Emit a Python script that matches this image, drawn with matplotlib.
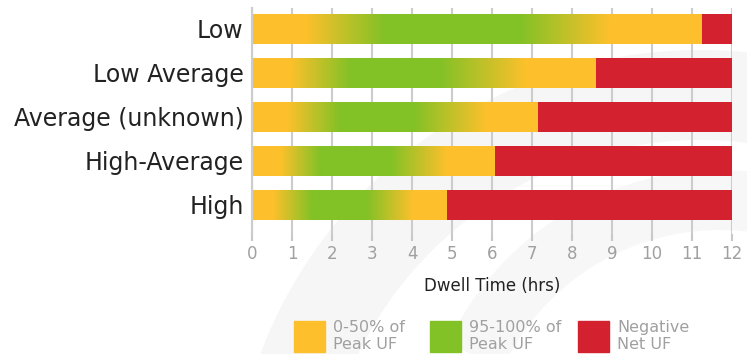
import numpy as np
import matplotlib
matplotlib.use('agg')
import matplotlib.pyplot as plt
from matplotlib.patches import Rectangle, Wedge

plt.rcParams['font.family'] = ['DejaVu Sans']

categories = ['Low', 'Low Average', 'Average (unknown)', 'High-Average', 'High']
# positive net UF ends here, negative from there to 12 h
positive_end = [11.24, 8.6, 7.14, 6.08, 4.87]
# gradient stops along each bar: yellow until, green from, green until, yellow from
yellow_until = [1.33, 0.95, 0.87, 0.70, 0.53]
green_from = [3.3, 2.45, 2.2, 1.7, 1.5]
green_until = [6.7, 4.7, 4.03, 3.45, 2.87]
yellow_from = [8.95, 6.87, 5.87, 4.87, 4.03]
max_dwell = 12
xticks = list(range(0, 13))
legend_labels = ['0-50% of\nPeak UF', '95-100% of\nPeak UF', 'Negative\nNet UF']

yellow = np.array([253, 192, 44]) / 255
green = np.array([130, 194, 38]) / 255
red = np.array([212, 33, 47]) / 255

fig = plt.figure(figsize=(7.47, 3.54), dpi=100)

# faint swoosh in the background (pixel coords, y from top)
bg = fig.add_axes([0, 0, 1, 1], zorder=-1)
bg.set_xlim(0, 747)
bg.set_ylim(354, 0)
bg.axis('off')
bg.add_patch(Wedge((700, 520), 470, 195, 300, width=90, color='#f6f6f6', lw=0))
bg.add_patch(Wedge((720, 470), 300, 205, 330, width=60, color='#f7f7f7', lw=0))

ax = fig.add_axes([252 / 747, 1 - 234 / 354, 480 / 747, 226 / 354])
ax.patch.set_alpha(0)

h = 0.68
for i, cat in enumerate(categories):
    end = positive_end[i]
    xs = np.linspace(0, end, 400)
    stops = [0, yellow_until[i], green_from[i], green_until[i], yellow_from[i], end]
    w = np.interp(xs, stops, [0, 0, 1, 1, 0, 0])
    row = (1 - w)[:, None] * yellow + w[:, None] * green
    ax.imshow(row[None, :, :], extent=(0, end, i + h / 2, i - h / 2),
              aspect='auto', interpolation='bilinear', zorder=2)
    ax.barh(i, max_dwell - end, left=end, height=h, color=red, zorder=2)

ax.set_xlim(0, max_dwell)
ax.set_ylim(4 + 29 / 44, -20.5 / 44)
ax.set_xticks(xticks)
ax.set_yticks(range(len(categories)))
ax.set_yticklabels(categories, fontsize=17, color='#222222')
ax.tick_params(axis='x', colors='#c8c8c8', labelcolor='#a0a0a0', labelsize=12,
               length=5, width=1.5, pad=3)
ax.tick_params(axis='y', length=0, pad=6)
ax.grid(axis='x', color='#cccccc', linewidth=1.5, zorder=0)
ax.set_axisbelow(True)
for s in ['top', 'right', 'bottom']:
    ax.spines[s].set_visible(False)
ax.spines['left'].set_color('#cccccc')
ax.spines['left'].set_linewidth(1.5)
ax.set_xlabel('Dwell Time (hrs)', fontsize=12, color='#222222', labelpad=10)

# legend boxes below the axis
box_x = [294, 430, 578]
for bx, col, lab in zip(box_x, [yellow, green, red], legend_labels):
    fig.patches.append(Rectangle((bx / 747, 1 - 352 / 354), 31 / 747, 31 / 354,
                                 transform=fig.transFigure, color=col))
    fig.text((bx + 39) / 747, 1 - 336 / 354, lab, fontsize=11.5, color='#a0a0a0',
             va='center', ha='left', linespacing=1.2)

fig.savefig('out.png', dpi=100)
